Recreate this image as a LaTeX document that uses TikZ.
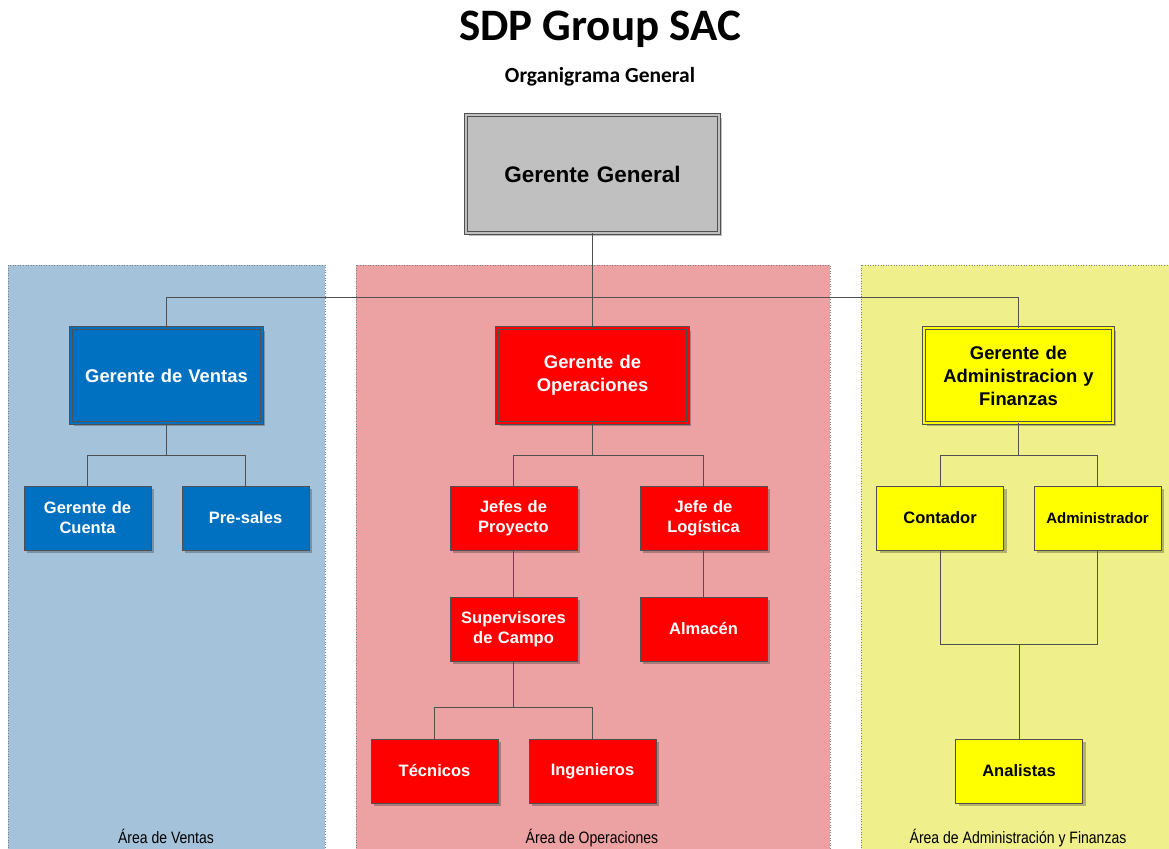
\documentclass[tikz,border=0pt]{standalone}
\usepackage{fontspec}
\setmainfont{Liberation Sans}
\newfontfamily\titlefont{Carlito}
\newfontfamily\narrowfont{Liberation Sans}[FakeStretch=0.85]
\usetikzlibrary{shadows}
\definecolor{panelblue}{HTML}{A5C2DB}
\definecolor{panelred}{HTML}{ECA2A2}
\definecolor{panelyellow}{HTML}{EFEF8C}
\definecolor{boxgray}{HTML}{C0C0C0}
\definecolor{boxblue}{HTML}{0070C0}
\definecolor{boxred}{HTML}{FF0000}
\definecolor{boxyellow}{HTML}{FFFF00}
\definecolor{linegray}{HTML}{505050}
\tikzset{
  panel/.style={draw=gray, dotted, line width=0.6pt},
  box/.style={rectangle, draw=linegray, line width=0.8pt, outer sep=0pt, inner sep=2pt,
    align=center, font=\bfseries, text width=#1,
    drop shadow={shadow xshift=3pt, shadow yshift=-3pt, fill=black, opacity=0.25}},
  box/.default=110pt,
  dbox/.style={box=#1, double distance=2.2pt, line width=0.8pt},
  small/.style={minimum width=127pt, minimum height=64pt, font=\bfseries\fontsize{16.5}{20}\selectfont},
  big/.style={minimum width=191pt, minimum height=95pt, font=\bfseries\fontsize{18.4}{23}\selectfont},
  conn/.style={draw=linegray, line width=0.9pt},
  arealabel/.style={font=\narrowfont\fontsize{16.5}{19}\selectfont, anchor=base}
}
\begin{document}
\begin{tikzpicture}[x=1pt,y=-1pt]
\useasboundingbox (0,0) rectangle (1169,848);
\fill[white] (0,0) rectangle (1169,848);
% panels
\path[panel, fill=panelblue] (8,265) rectangle (325,858);
\path[panel, fill=panelred] (356,265) rectangle (830,858);
\path[panel, fill=panelyellow] (861,265) rectangle (1179,858);
% titles
\node[font=\titlefont\bfseries\fontsize{45}{50}\selectfont] (title) at (600,29) {SDP Group SAC};
\node[font=\titlefont\bfseries\fontsize{21.5}{25}\selectfont] (subtitle) at (600,77) {Organigrama General};
% area labels
\node[arealabel] (lv) at (166,843) {Área de Ventas};
\node[arealabel] (lo) at (592,843) {Área de Operaciones};
\node[arealabel] (la) at (1018,843) {Área de Administración y Finanzas};
% boxes
\node[dbox=240pt, fill=boxgray, double=boxgray, minimum width=253pt, minimum height=118pt,
  font=\bfseries\fontsize{22.5}{26}\selectfont] (GG) at (592.5,174) {Gerente General};
\node[dbox=185pt, big, fill=boxblue, double=boxblue, text=white] (GV) at (166.5,375.5) {Gerente de Ventas};
\node[dbox=185pt, big, fill=boxred, double=boxred, text=white] (GO) at (592.5,375.5) {Gerente de\\Operaciones};
\node[dbox=183pt, big, minimum width=189pt, fill=boxyellow, double=boxyellow, text=black] (GA) at (1018.5,375.5) {Gerente de\\Administracion y\\Finanzas};
\node[box=122pt, small, fill=boxblue, text=white] (GC) at (87.5,518) {Gerente de\\Cuenta};
\node[box=122pt, small, fill=boxblue, text=white] (PS) at (245.5,518) {Pre-sales};
\node[box=122pt, small, fill=boxred, text=white] (JP) at (513.5,518) {Jefes de\\Proyecto};
\node[box=122pt, small, fill=boxred, text=white] (JL) at (703.5,518) {Jefe de\\Logística};
\node[box=122pt, small, fill=boxred, text=white] (SC) at (513.5,629) {Supervisores\\de Campo};
\node[box=122pt, small, fill=boxred, text=white] (AL) at (703.5,629) {Almacén};
\node[box=122pt, small, fill=boxred, text=white] (TE) at (434.5,771) {Técnicos};
\node[box=122pt, small, fill=boxred, text=white] (IN) at (592.5,771) {Ingenieros};
\node[box=122pt, small, fill=boxyellow, text=black] (CO) at (940,518) {Contador};
\node[box=122pt, small, fill=boxyellow, text=black, font=\bfseries\fontsize{15}{18}\selectfont] (AD) at (1097.5,518) {Administrador};
\node[box=122pt, small, fill=boxyellow, text=black] (AN) at (1019,771) {Analistas};
% connectors
\draw[conn] (GG.south) -- (GO.north);
\draw[conn] (GV.north) -- ++(0,-31) coordinate (h1) -| (GA.north);
\draw[conn] (GV.south) -- ++(0,32) coordinate (v1) -| (GC.north);
\draw[conn] (v1) -| (PS.north);
\draw[conn] (GO.south) -- ++(0,32) coordinate (o1) -| (JP.north);
\draw[conn] (o1) -| (JL.north);
\draw[conn] (JP.south) -- (SC.north);
\draw[conn] (JL.south) -- (AL.north);
\draw[conn] (SC.south) -- ++(0,46) coordinate (o2) -| (TE.north);
\draw[conn] (o2) -| (IN.north);
\draw[conn] (GA.south) -- ++(0,32) coordinate (a1) -| (CO.north);
\draw[conn] (a1) -| (AD.north);
\draw[conn] (CO.south) |- (AN.north |- 0,644) coordinate (a2);
\draw[conn] (AD.south) |- (a2);
\draw[conn] (a2) -- (AN.north);
\end{tikzpicture}
\end{document}
